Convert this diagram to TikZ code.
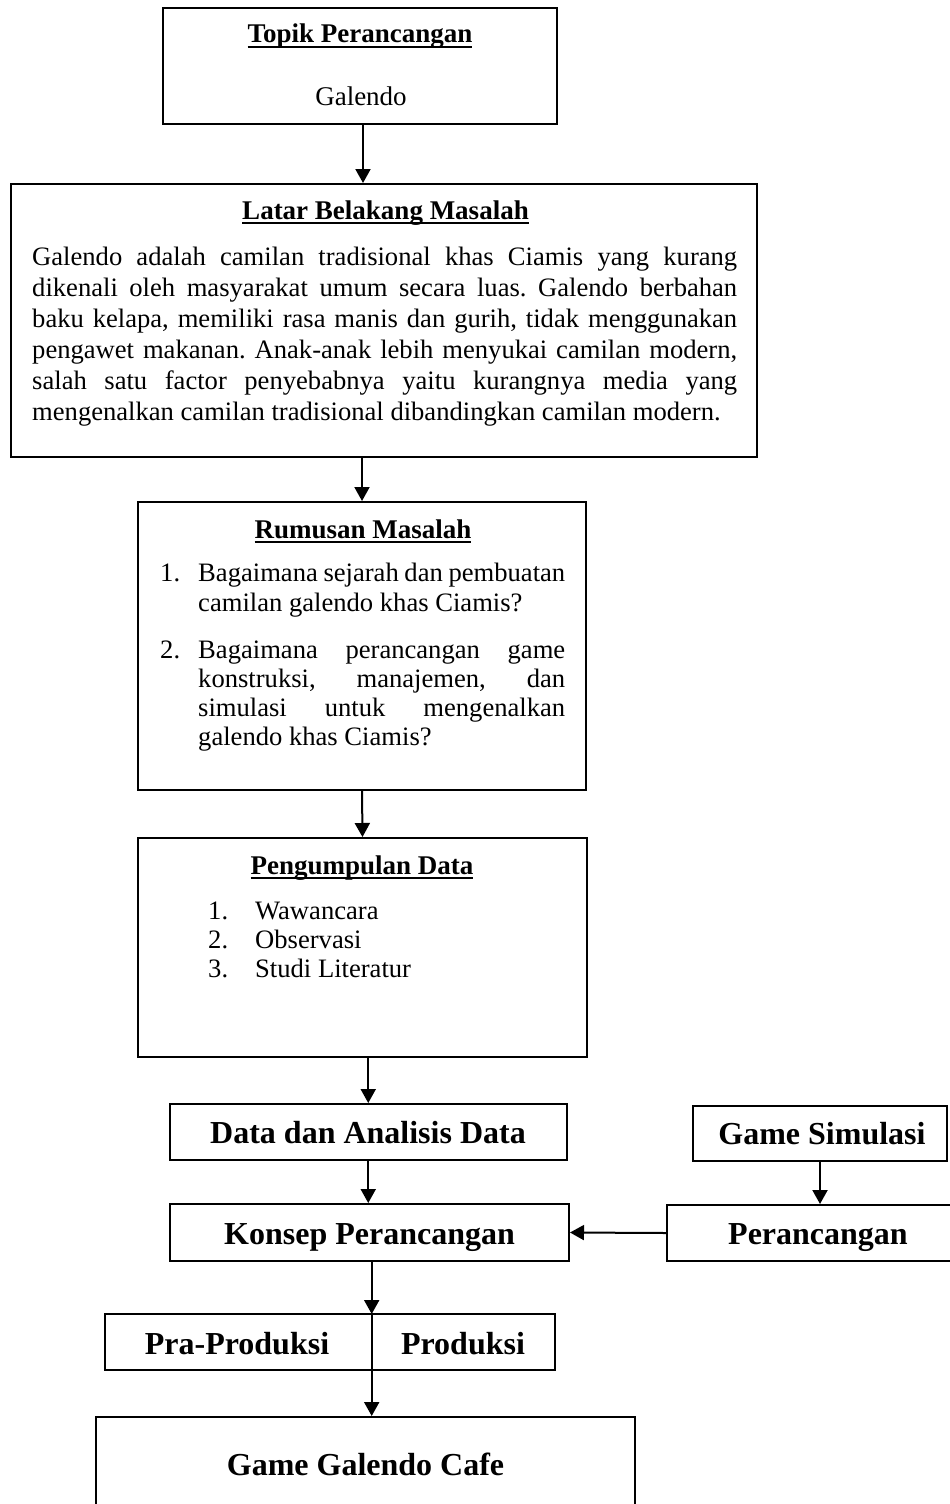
\documentclass[tikz,border=0pt]{standalone}
\usepackage{fontspec}
\setmainfont{Liberation Serif}
\usetikzlibrary{arrows.meta}
\frenchspacing
\newcommand{\ulbf}[1]{\setbox0\hbox{\bfseries #1}\rlap{\rule[-0.2em]{\wd0}{0.075em}}\box0}
\newcommand{\jl}[2]{\makebox[#1][s]{#2}}
\begin{document}
\begin{tikzpicture}[x=1pt,y=-1pt,
  box/.style={draw, line width=2pt, rectangle, inner sep=0pt},
  arr/.style={line width=2pt, -{Triangle[width=15pt,length=14pt]}},
  body/.style={inner sep=0pt, anchor=base west, font=\fontsize{26.6}{30}\selectfont},
  ttl/.style={inner sep=0pt, anchor=base, font=\fontsize{27}{30}\selectfont},
  big/.style={inner sep=0pt, anchor=base, font=\fontsize{32}{36}\selectfont\bfseries}]
\useasboundingbox (0,0) rectangle (950,1504);
\fill[white] (0,0) rectangle (950,1504);

% boxes
\node[box, minimum width=394pt, minimum height=116pt] (topik) at (360,66) {};
\node[box, minimum width=746pt, minimum height=273pt] (latar) at (384,320.5) {};
\node[box, minimum width=448pt, minimum height=288pt] (rum) at (362,646) {};
\node[box, minimum width=449pt, minimum height=219pt] (peng) at (362.5,947.5) {};
\node[box, minimum width=397.5pt, minimum height=56pt] (data) at (368.25,1132) {};
\node[box, minimum width=254pt, minimum height=55pt] (gsim) at (820,1133.5) {};
\node[box, minimum width=399.5pt, minimum height=57pt] (konsep) at (369.25,1232.5) {};
\node[box, minimum width=303pt, minimum height=56pt] (per) at (818.5,1233) {};
\node[box, minimum width=450.3pt, minimum height=56pt] (pra) at (329.85,1342) {};
\node[box, minimum width=539pt, minimum height=143pt] (game) at (365.5,1488.5) {};
\coordinate (div) at (371.7,1314);

% Topik
\node[ttl] (t1) at (360,43) {\ulbf{Topik Perancangan}};
\node[ttl] (t2) at (361,105) {Galendo};

% Latar
\node[ttl] (l0) at (385.5,219) {\ulbf{Latar Belakang Masalah}};
\node[body] (l1) at (32,265) {\jl{705pt}{Galendo adalah camilan tradisional khas Ciamis yang kurang}};
\node[body] (l2) at (32,296) {\jl{705pt}{dikenali oleh masyarakat umum secara luas. Galendo berbahan}};
\node[body] (l3) at (32,327) {\jl{705pt}{baku kelapa, memiliki rasa manis dan gurih, tidak menggunakan}};
\node[body] (l4) at (32,358) {\jl{705pt}{pengawet makanan. Anak-anak lebih menyukai camilan modern,}};
\node[body] (l5) at (32,389) {\jl{705pt}{salah satu factor penyebabnya yaitu kurangnya media yang}};
\node[body] (l6) at (32,420) {mengenalkan camilan tradisional dibandingkan camilan modern.};

% Rumusan
\node[ttl] (r0) at (363,538) {\ulbf{Rumusan Masalah}};
\node[body] (rn1) at (160,581) {1.};
\node[body] (r1) at (198,581) {\jl{367pt}{Bagaimana sejarah dan pembuatan}};
\node[body] (r2) at (198,611) {camilan galendo khas Ciamis?};
\node[body] (rn2) at (160,658) {2.};
\node[body] (r3) at (198,658) {\jl{367pt}{Bagaimana perancangan game}};
\node[body] (r4) at (198,687) {\jl{367pt}{konstruksi, manajemen, dan}};
\node[body] (r5) at (198,716) {\jl{367pt}{simulasi untuk mengenalkan}};
\node[body] (r6) at (198,745) {galendo khas Ciamis?};

% Pengumpulan
\node[ttl] (p0) at (362,874) {\ulbf{Pengumpulan Data}};
\node[body] (pn1) at (208,919) {1.};
\node[body] (p1) at (255,919) {Wawancara};
\node[body] (pn2) at (208,948) {2.};
\node[body] (p2) at (255,948) {Observasi};
\node[body] (pn3) at (208,977) {3.};
\node[body] (p3) at (255,977) {Studi Literatur};

% big labels
\node[big] (dt) at (368,1143) {Data dan Analisis Data};
\node[big] (gt) at (822,1144) {Game Simulasi};
\node[big] (kt) at (369.5,1244) {Konsep Perancangan};
\node[big] (pt) at (818,1244) {Perancangan};
\node[big] (prt) at (237,1354) {Pra-Produksi};
\node[big] (pdt) at (463,1354) {Produksi};
\node[big] (gct) at (365.5,1475) {Game Galendo Cafe};

% connectors
\draw[arr] ([xshift=3pt]topik.south) -- ([xshift=3pt]topik.south |- latar.north);
\draw[arr] (rum.north |- latar.south) -- (rum.north);
\draw[arr] (rum.south) -- (peng.north);
\draw[arr] (data.north |- peng.south) -- (data.north);
\draw[arr] (data.south) -- (data.south |- konsep.north);
\draw[arr] (gsim.south) -- (gsim.south |- per.north);
\draw[arr] (per.west) -- (konsep.east);
\draw[arr] (div |- konsep.south) -- (div);
\draw[arr] (div) -- (div |- game.north);
\end{tikzpicture}
\end{document}
